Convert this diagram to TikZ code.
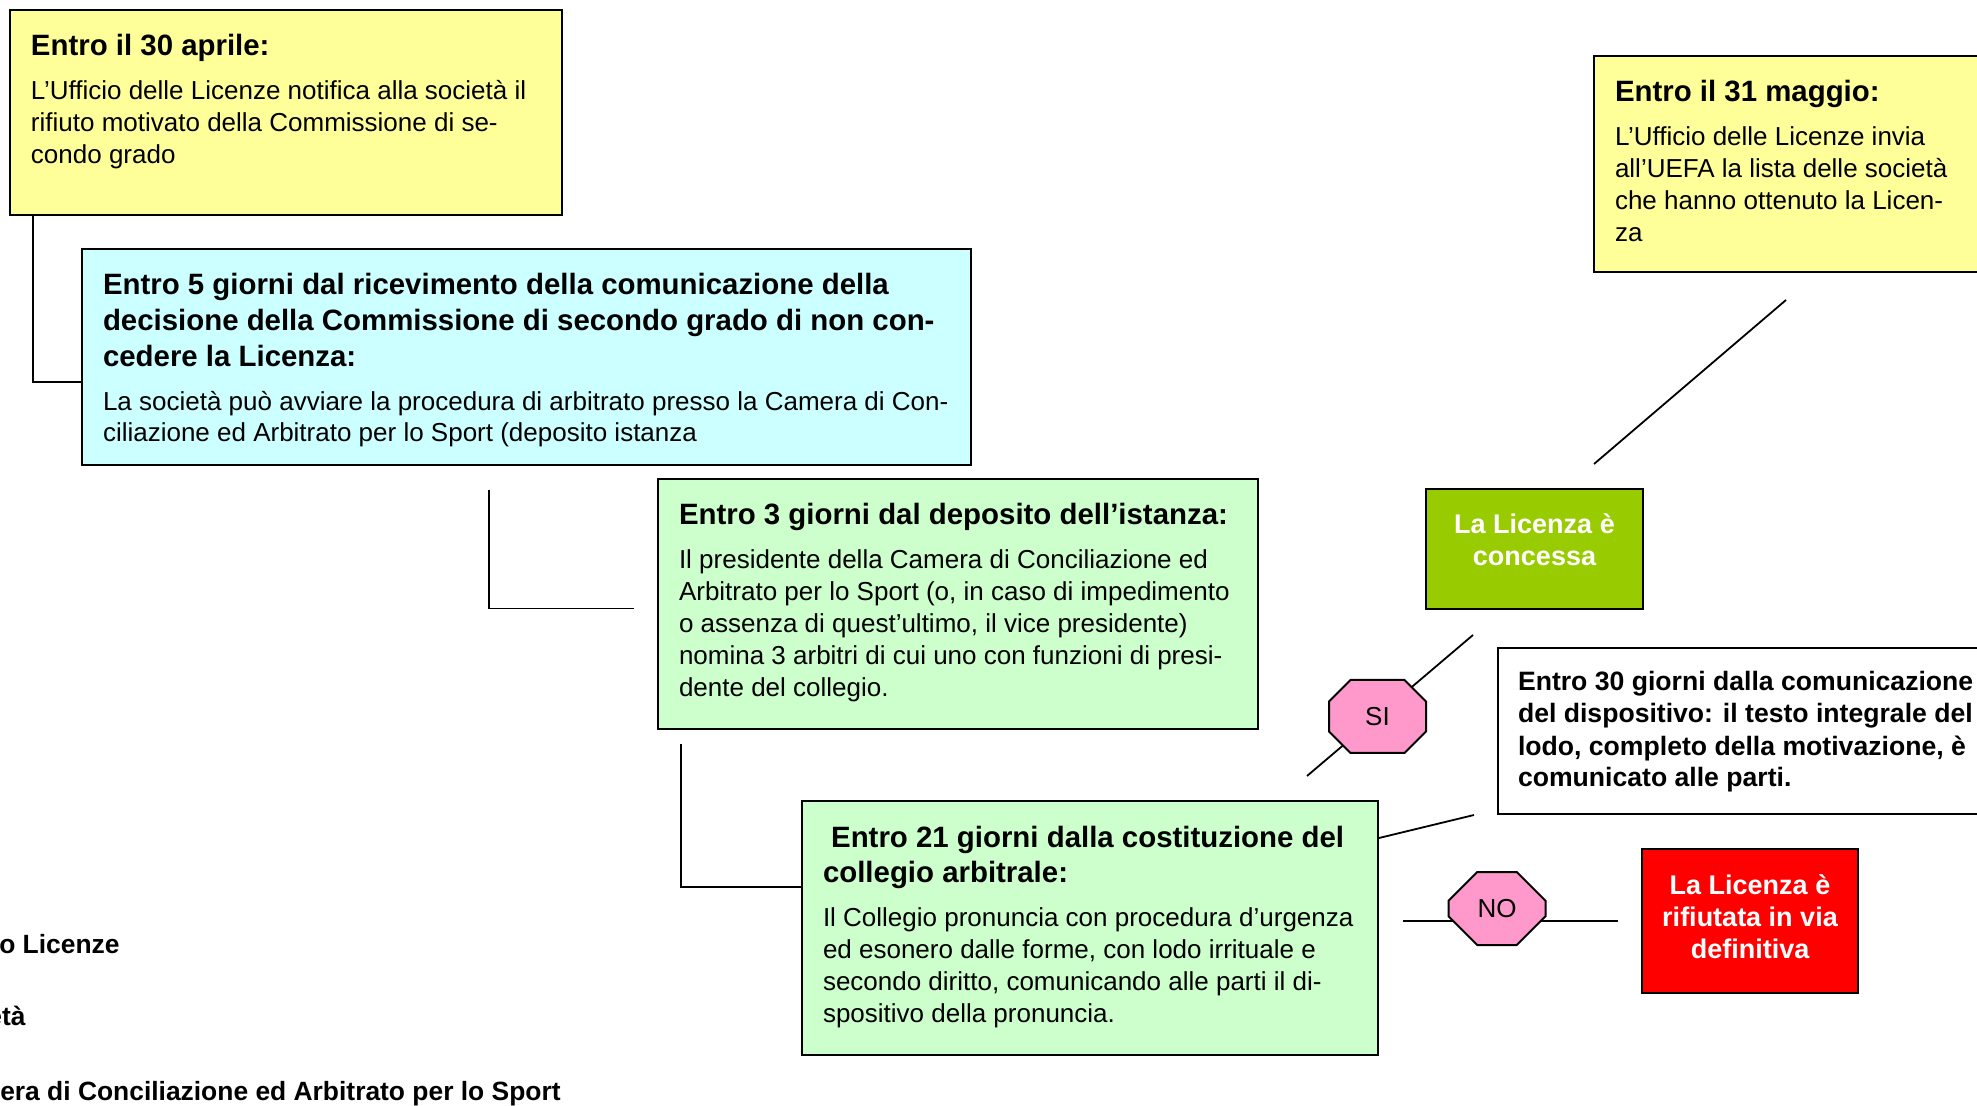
\documentclass[tikz,border=0pt]{standalone}
\usepackage{fontspec}
\setmainfont{Liberation Sans}
\usetikzlibrary{shapes.misc,backgrounds,calc}

\definecolor{giallo}{HTML}{FFFF99}
\definecolor{azzurro}{HTML}{CCFFFF}
\definecolor{verdino}{HTML}{CCFFCC}
\definecolor{verde}{HTML}{99CC00}
\definecolor{rosa}{HTML}{FF99CC}
\definecolor{rosso}{HTML}{FF0000}

\newcommand{\titolo}{\fontsize{14.7}{17.8}\selectfont\bfseries}
\newcommand{\corpo}{\fontsize{13}{15.9}\selectfont\mdseries}
% box text: width, height, heading, body
\newcommand{\fase}[4]{\parbox[c][#2][t]{#1}{\raggedright\leftskip=10.5pt
  \titolo\rule{0pt}{23pt}#3\par\vspace{6.1pt}\corpo #4\par}}
% centered white text: width, height, text
\newcommand{\esito}[3]{\parbox[c][#2][t]{#1}{\centering
  \fontsize{13.5}{16}\selectfont\bfseries\color{white}\rule{0pt}{22.5pt}#3\par}}

\begin{document}
\begin{tikzpicture}[x=0.5pt, y=-0.5pt,
  box/.style={draw, line width=1pt, anchor=north west, inner sep=0pt},
  ottagono/.style={draw, line width=1pt, fill=rosa, chamfered rectangle,
    chamfered rectangle xsep=10.5pt, chamfered rectangle ysep=11pt,
    minimum width=48.5pt, minimum height=36.5pt, inner sep=0pt,
    font=\fontsize{13}{15}\selectfont},
  linea/.style={line width=0.9pt},
  legenda/.style={anchor=base east, inner sep=0pt,
    font=\fontsize{13.2}{16}\selectfont\bfseries}]

\useasboundingbox (0,0) rectangle (1977,1106);

% the steps
\node[box, fill=giallo] (b1) at (9,9) {\fase{276pt}{102.5pt}
  {Entro il 30 aprile:}
  {L’Ufficio delle Licenze notifica alla società il\\rifiuto motivato della Commissione di se-\\condo grado}};
\node[box, fill=azzurro] (b2) at (81,248) {\fase{444.5pt}{108pt}
  {Entro 5 giorni dal ricevimento della comunicazione della\\decisione della Commissione di secondo grado di non con-\\cedere la Licenza:}
  {La società può avviare la procedura di arbitrato presso la Camera di Con-\\ciliazione ed Arbitrato per lo Sport (deposito istanza}};
\node[box, fill=verdino] (b3) at (657,478) {\fase{300pt}{125pt}
  {Entro 3 giorni dal deposito dell’istanza:}
  {Il presidente della Camera di Conciliazione ed\\Arbitrato per lo Sport (o, in caso di impedimento\\o assenza di quest’ultimo, il vice presidente)\\nomina 3 arbitri di cui uno con funzioni di presi-\\dente del collegio.}};
\node[box, fill=verdino] (b4) at (801,800) {\fase{288pt}{127pt}
  {\ Entro 21 giorni dalla costituzione del\\collegio arbitrale:}
  {Il Collegio pronuncia con procedura d’urgenza\\ed esonero dalle forme, con lodo irrituale e\\secondo diritto, comunicando alle parti il di-\\spositivo della pronuncia.}};
\node[box, fill=giallo] (b5) at (1593,55) {\fase{205pt}{108pt}
  {Entro il 31 maggio:}
  {L’Ufficio delle Licenze invia\\all’UEFA la lista delle società\\che hanno ottenuto la Licen-\\za}};
\node[box, fill=white] (wb) at (1497,647) {\parbox[c][83pt][t]{260pt}{\raggedright\leftskip=10pt
  \fontsize{13.3}{16}\selectfont\bfseries\rule{0pt}{21.5pt}Entro 30 giorni dalla comunicazione\\del dispositivo: il testo integrale del\\lodo, completo della motivazione, è\\comunicato alle parti.\par}};

% outcomes
\node[box, fill=verde] (ok) at (1425,488) {\esito{108.5pt}{60pt}{La Licenza è\\concessa}};
\node[box, fill=rosso] (rd) at (1641,848) {\esito{108pt}{72pt}{La Licenza è\\rifiutata in via\\definitiva}};
\node[ottagono] (si) at (1377.5,716.5) {SI};
\node[ottagono] (no) at (1497,908.5) {NO};

% legend, cut by the page edge
\node[legenda] (l1) at (120,953) {o Licenze};
\node[legenda] (l2) at (26,1025) {età};
\node[legenda] (l3) at (561,1100) {era di Conciliazione ed Arbitrato per lo Sport};

\begin{scope}[on background layer]
  \draw[linea] ([xshift=12pt]b1.south west) |- ([yshift=-12.5pt]b2.west);
  \draw[linea] ([xshift=204pt,yshift=-12pt]b2.south west) |- ([xshift=-11.5pt,yshift=-2.25pt]b3.west);
  \draw[linea] ([xshift=12pt,yshift=-7pt]b3.south west) |- ([yshift=20.5pt]b4.west);
  \draw[linea] ([xshift=-36pt,yshift=12pt]b4.north east) -- ([xshift=24pt,yshift=-12.5pt]ok.south west);
  \draw[linea] ([yshift=-19pt]b4.north east) -- ([xshift=-11.5pt]wb.south west);
  \draw[linea] ([xshift=84.5pt,yshift=12pt]ok.north west) -- ([xshift=96.5pt,yshift=-13.5pt]b5.south west);
  \draw[linea] ($(b4.east |- rd.west)+(12pt,0pt)$) -- ([xshift=-11.5pt]rd.west);
\end{scope}
\end{tikzpicture}
\end{document}
